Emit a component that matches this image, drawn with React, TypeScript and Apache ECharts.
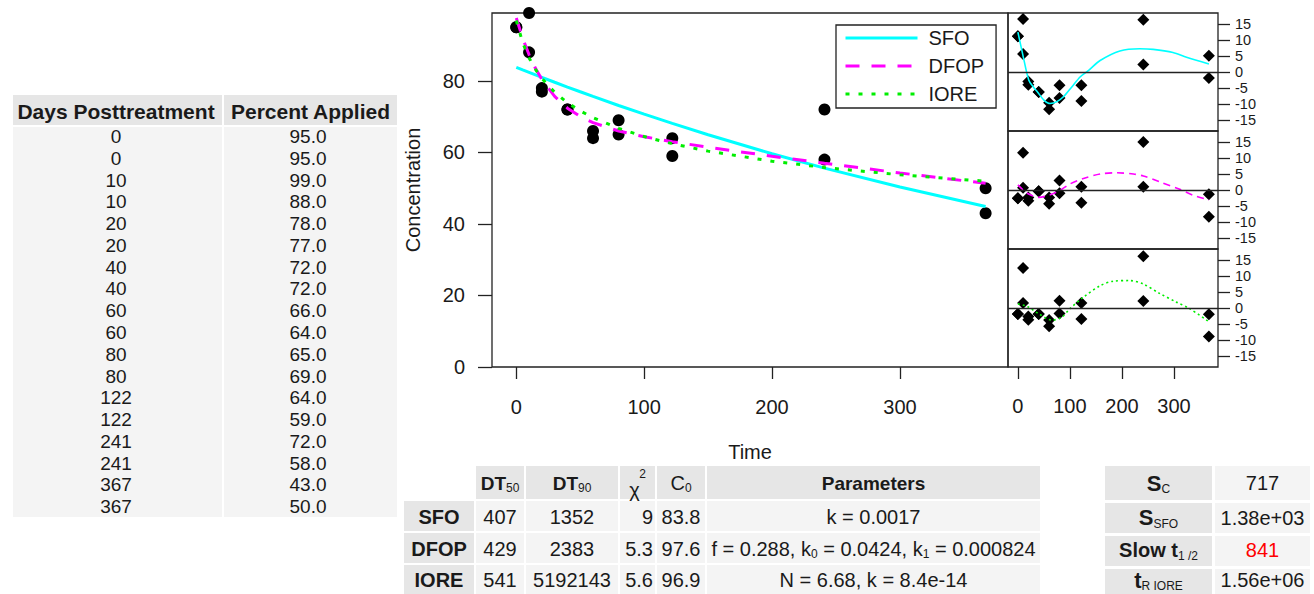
import React, { useEffect, useRef } from 'react';
import * as echarts from 'echarts';

// ---------- data ----------
const days = [0, 0, 10, 10, 20, 20, 40, 40, 60, 60, 80, 80, 122, 122, 241, 241, 367, 367];
const percentApplied = [95, 95, 99, 88, 78, 77, 72, 72, 66, 64, 65, 69, 64, 59, 72, 58, 43, 50];

const fitTimes = [0, 5, 10, 15, 20, 30, 40, 50, 60, 80, 100, 122, 150, 200, 241, 300, 367];
const sfoFit = [83.8, 83.09, 82.39, 81.69, 81.0, 79.63, 78.29, 76.97, 75.67, 73.14, 70.7, 68.12, 64.94, 59.65, 55.63, 50.32, 44.91];
const dfopFit = [97.6, 91.95, 87.32, 83.52, 80.39, 75.67, 72.39, 70.06, 68.35, 66.0, 64.4, 63.0, 61.46, 58.93, 56.98, 54.27, 51.36];
const ioreFit = [96.9, 90.69, 86.44, 83.24, 80.7, 76.82, 73.92, 71.62, 69.73, 66.75, 64.45, 62.43, 60.37, 57.56, 55.79, 53.76, 51.95];

const sfoResiduals = [11.2, 11.2, 16.61, 5.61, -3.0, -4.0, -6.29, -6.29, -9.67, -11.67, -8.14, -4.14, -4.12, -9.12, 16.37, 2.37, -1.91, 5.09];
const dfopResiduals = [-2.6, -2.6, 11.68, 0.68, -2.39, -3.39, -0.39, -0.39, -2.35, -4.35, -1.0, 3.0, 1.0, -4.0, 15.02, 1.02, -8.36, -1.36];
const ioreResiduals = [-1.9, -1.9, 12.56, 1.56, -2.7, -3.7, -1.92, -1.92, -3.73, -5.73, -1.75, 2.25, 1.57, -3.43, 16.21, 2.21, -8.95, -1.95];

const sfoSmoothTimes = [0, 10, 21, 30, 37, 50, 62, 75, 88, 104, 120, 136, 158, 196, 234, 260, 298, 324, 367];
const sfoSmooth = [12.5, 5, -2.6, -4.8, -6.1, -8.8, -9.9, -9.3, -7.7, -4.6, -1.5, 0.5, 3.6, 6.6, 7.3, 7.1, 6.1, 4.6, 2.5];
const dfopSmoothTimes = [0, 18, 40, 62, 82, 100, 126, 158, 190, 222, 241, 272, 311, 336, 367];
const dfopSmooth = [1.6, -1.0, -2.3, -1.5, 0, 1.9, 3.6, 5.0, 5.4, 5.0, 4.4, 2.6, 0.2, -1.6, -3.1];
const ioreSmoothTimes = [0, 18, 40, 66, 85, 100, 126, 158, 183, 215, 241, 272, 304, 330, 367];
const ioreSmooth = [1.3, 0.5, -1.8, -3.8, -2.8, -0.2, 3.4, 7.0, 8.4, 8.6, 7.5, 4.6, 1.9, -0.2, -4.3];

const timeTicks = [0, 100, 200, 300];
const concTicks = [0, 20, 40, 60, 80];
const residualTicks = [-15, -10, -5, 0, 5, 10, 15];

const tableHeaders = ['Days Posttreatment', 'Percent Applied'];
const modelNames = ['SFO', 'DFOP', 'IORE'];
const dt50 = ['407', '429', '541'];
const dt90 = ['1352', '2383', '5192143'];
const chi2 = ['9', '5.3', '5.6'];
const c0 = ['83.8', '97.6', '96.9'];
const parameters = [
  'k = 0.0017',
  'f = 0.288, k{s|0} = 0.0424, k{s|1} = 0.000824',
  'N = 6.68, k = 8.4e-14',
];
const statLabels = ['{b|S}{s|C}', '{b|S}{s|SFO}', '{c|Slow t}{s|1 /2}', '{b|t}{s|R IORE}'];
const statValues = ['717', '1.38e+03', '841', '1.56e+06'];

// ---------- helpers ----------
const FONT = '"Liberation Sans", Arial, Helvetica, sans-serif';
const INK = '#1a1a1a';
const HEAD = '#e6e6e6';
const BODY = '#f4f4f4';

function rect(x: number, y: number, w: number, h: number, fill: string) {
  return { type: 'rect', silent: true, shape: { x, y, width: w, height: h }, style: { fill } };
}

function txt(text: string, x: number, y: number, o: any = {}) {
  return {
    type: 'text',
    silent: true,
    x,
    y,
    style: {
      text,
      fill: o.fill || INK,
      fontSize: o.fontSize || 20,
      fontWeight: o.fontWeight || 'normal',
      fontFamily: FONT,
      align: o.align || 'center',
      verticalAlign: 'middle',
      rich: o.rich,
    },
  };
}

const subRich = {
  b: { fontSize: 19, fontWeight: 'bold', fontFamily: FONT, fill: INK, lineHeight: 22 },
  n: { fontSize: 20, fontFamily: FONT, fill: INK, lineHeight: 22 },
  c: { fontSize: 20, fontWeight: 'bold', fontFamily: FONT, fill: INK, lineHeight: 22 },
  s: { fontSize: 12, fontFamily: FONT, fill: INK, lineHeight: 12, verticalAlign: 'bottom' },
};

function buildGraphics() {
  const els: any[] = [];
  // left data table
  els.push(rect(13, 95, 209, 30, HEAD), rect(224, 95, 173, 30, HEAD));
  els.push(rect(13, 127, 209, 390, BODY), rect(224, 127, 173, 390, BODY));
  els.push(txt(tableHeaders[0], 116, 111, { fontSize: 21, fontWeight: 'bold' }));
  els.push(txt(tableHeaders[1], 310.5, 111, { fontSize: 21, fontWeight: 'bold' }));
  days.forEach((d, i) => {
    const y = 136.5 + i * 21.78;
    els.push(txt(String(d), 116, y, { fontSize: 19 }));
    els.push(txt(percentApplied[i].toFixed(1), 308, y, { fontSize: 19 }));
  });

  // model table
  const cols = [
    { x: 404, w: 70 }, { x: 476, w: 48 }, { x: 526, w: 92 },
    { x: 620, w: 35 }, { x: 657, w: 48 }, { x: 707, w: 333 },
  ];
  const rows = [{ y: 466, h: 33 }, { y: 501, h: 30 }, { y: 533, h: 30 }, { y: 565, h: 29 }];
  rows.forEach((r, ri) => {
    cols.forEach((c, ci) => {
      if (ri === 0 && ci === 0) return;
      els.push(rect(c.x, r.y, c.w, r.h, ri === 0 || ci === 0 ? HEAD : BODY));
    });
  });
  const cx = (i: number) => cols[i].x + cols[i].w / 2;
  const hy = 483;
  els.push(txt('{b|DT}{s|50}', cx(1), hy, { rich: subRich }));
  els.push(txt('{b|DT}{s|90}', cx(2), hy, { rich: subRich }));
  els.push(txt('χ', cx(3) - 3, hy + 7, { fontSize: 20 }));
  els.push(txt('2', cx(3) + 5, hy - 9, { fontSize: 12 }));
  els.push(txt('{n|C}{s|0}', cx(4), hy, { rich: subRich }));
  els.push(txt('Parameters', cx(5), hy, { fontSize: 19, fontWeight: 'bold' }));
  const rowY = [516.5, 548.5, 579.5];
  modelNames.forEach((m, i) => {
    const y = rowY[i];
    els.push(txt(m, cx(0), y, { fontSize: 20, fontWeight: 'bold' }));
    els.push(txt(dt50[i], cx(1), y));
    els.push(txt(dt90[i], cx(2), y));
    els.push(txt(chi2[i], cols[3].x + cols[3].w - 2, y, { align: 'right' }));
    els.push(txt(c0[i], cx(4), y));
    els.push(txt('{n|' + parameters[i].replace(/\{s\|(\d)\}/g, '}{s|$1}{n|') + '}', cx(5), y, { rich: subRich }));
  });

  // statistics table
  const sCols = [{ x: 1105, w: 107 }, { x: 1215, w: 95 }];
  const sRows = [{ y: 466, h: 34 }, { y: 503, h: 30 }, { y: 536, h: 30 }, { y: 569, h: 25 }];
  const sY = [483, 517.5, 549.5, 580];
  const statRich = {
    b: { fontSize: 22, fontWeight: 'bold', fontFamily: FONT, fill: INK, lineHeight: 24 },
    c: { fontSize: 20, fontWeight: 'bold', fontFamily: FONT, fill: INK, lineHeight: 24 },
    s: { fontSize: 12, fontFamily: FONT, fill: INK, lineHeight: 12, verticalAlign: 'bottom' },
  };
  sRows.forEach((r, i) => {
    els.push(rect(sCols[0].x, r.y, sCols[0].w, r.h, HEAD));
    els.push(rect(sCols[1].x, r.y, sCols[1].w, r.h, BODY));
    els.push(txt(statLabels[i], sCols[0].x + sCols[0].w / 2, sY[i], { rich: statRich }));
    els.push(txt(statValues[i], sCols[1].x + sCols[1].w / 2, sY[i], { fill: i === 2 ? '#ff0000' : INK }));
  });
  return els;
}

const zip = (xs: number[], ys: number[]) => xs.map((x, i) => [x, ys[i]]);

function buildOption(): any {
  const X_MIN = -19;
  const X_MAX = 384.5;
  const R = 18.5;
  const border = { show: true, borderColor: '#222', borderWidth: 1.3, backgroundColor: 'transparent' };
  const tickStyle = { color: '#222', width: 1.3 };
  const residualGrid = (top: number) => ({ left: 1008, top, width: 210, height: 118, ...border });
  const hiddenX = (gi: number) => ({ gridIndex: gi, type: 'value', min: X_MIN, max: X_MAX, show: false });
  const residualY = (gi: number) => ({
    gridIndex: gi,
    type: 'value',
    position: 'right',
    min: -R,
    max: R,
    axisLine: { show: false, onZero: false },
    axisTick: { show: true, length: 12, lineStyle: tickStyle, customValues: residualTicks },
    axisLabel: { customValues: residualTicks, margin: 17, fontSize: 14.5, color: INK, fontFamily: FONT },
    splitLine: { show: false },
  });
  const residualScatter = (gi: number, vals: number[]) => ({
    type: 'scatter',
    xAxisIndex: gi,
    yAxisIndex: gi,
    data: zip(days, vals),
    symbol: 'diamond',
    symbolSize: 12,
    itemStyle: { color: '#000', opacity: 1 },
    clip: false,
    silent: true,
    markLine: {
      silent: true,
      symbol: ['none', 'none'],
      label: { show: false },
      lineStyle: { color: '#222', width: 1.3, type: 'solid' },
      data: [{ yAxis: 0 }],
    },
  });
  const smooth = (gi: number, ts: number[], vs: number[], color: string, type: any) => ({
    type: 'line',
    xAxisIndex: gi,
    yAxisIndex: gi,
    data: zip(ts, vs),
    symbol: 'none',
    showSymbol: false,
    smooth: 0.3,
    silent: true,
    lineStyle: { color, width: 1.6, type },
    itemStyle: { color },
  });

  return {
    animation: false,
    backgroundColor: '#ffffff',
    textStyle: { fontFamily: FONT },
    grid: [
      { left: 492, top: 13, width: 516, height: 354, ...border },
      residualGrid(13),
      residualGrid(131),
      residualGrid(249),
    ],
    legend: {
      data: ['SFO', 'DFOP', 'IORE'],
      orient: 'vertical',
      left: 836,
      top: 25,
      itemWidth: 72,
      itemHeight: 14,
      itemGap: 8,
      padding: [3, 12, 4, 8],
      borderColor: '#222',
      borderWidth: 1.3,
      borderRadius: 0,
      backgroundColor: '#ffffff',
      selectedMode: false,
      lineStyle: { width: 3 },
      itemStyle: { opacity: 0 },
      textStyle: { fontSize: 20, color: INK, fontFamily: FONT, padding: [0, 0, 0, 6] },
    },
    xAxis: [
      {
        gridIndex: 0,
        type: 'value',
        min: X_MIN,
        max: X_MAX,
        axisLine: { show: false, onZero: false },
        axisTick: { show: true, length: 12, lineStyle: tickStyle, customValues: timeTicks },
        axisLabel: { customValues: timeTicks, margin: 30, fontSize: 20, color: INK, fontFamily: FONT },
        splitLine: { show: false },
        name: 'Time',
        nameLocation: 'middle',
        nameGap: 75,
        nameTextStyle: { fontSize: 20, color: INK, fontFamily: FONT },
      },
      hiddenX(1),
      hiddenX(2),
      {
        gridIndex: 3,
        type: 'value',
        min: X_MIN,
        max: X_MAX,
        axisLine: { show: false, onZero: false },
        axisTick: { show: true, length: 12, lineStyle: tickStyle, customValues: timeTicks },
        axisLabel: { customValues: timeTicks, margin: 29, fontSize: 20, color: INK, fontFamily: FONT },
        splitLine: { show: false },
      },
    ],
    yAxis: [
      {
        gridIndex: 0,
        type: 'value',
        min: 0,
        max: 99,
        axisLine: { show: false, onZero: false },
        axisTick: { show: true, length: 14, lineStyle: tickStyle, customValues: concTicks },
        axisLabel: { customValues: concTicks, margin: 27, fontSize: 20, color: INK, fontFamily: FONT },
        splitLine: { show: false },
        name: 'Concentration',
        nameLocation: 'middle',
        nameGap: 69,
        nameTextStyle: { fontSize: 20, color: INK, fontFamily: FONT },
      },
      residualY(1),
      residualY(2),
      residualY(3),
    ],
    series: [
      {
        type: 'scatter',
        xAxisIndex: 0,
        yAxisIndex: 0,
        data: zip(days, percentApplied),
        symbol: 'circle',
        symbolSize: 12,
        itemStyle: { color: '#000', opacity: 1 },
        clip: false,
        silent: true,
      },
      {
        name: 'SFO',
        type: 'line',
        xAxisIndex: 0,
        yAxisIndex: 0,
        data: zip(fitTimes, sfoFit),
        symbol: 'none',
        showSymbol: false,
        silent: true,
        lineStyle: { color: '#00ffff', width: 3 },
        itemStyle: { color: '#00ffff' },
      },
      {
        name: 'DFOP',
        type: 'line',
        xAxisIndex: 0,
        yAxisIndex: 0,
        data: zip(fitTimes, dfopFit),
        symbol: 'none',
        showSymbol: false,
        silent: true,
        lineStyle: { color: '#ff00ff', width: 3, type: [14, 12] },
        itemStyle: { color: '#ff00ff' },
      },
      {
        name: 'IORE',
        type: 'line',
        xAxisIndex: 0,
        yAxisIndex: 0,
        data: zip(fitTimes, ioreFit),
        symbol: 'none',
        showSymbol: false,
        silent: true,
        lineStyle: { color: '#00ee00', width: 3, type: [4, 9] },
        itemStyle: { color: '#00ee00' },
      },
      residualScatter(1, sfoResiduals),
      residualScatter(2, dfopResiduals),
      residualScatter(3, ioreResiduals),
      smooth(1, sfoSmoothTimes, sfoSmooth, '#00ffff', 'solid'),
      smooth(2, dfopSmoothTimes, dfopSmooth, '#ff00ff', [7, 5]),
      smooth(3, ioreSmoothTimes, ioreSmooth, '#00ee00', [2, 3]),
    ],
    graphic: { elements: buildGraphics() },
  };
}

export default function App() {
  const ref = useRef<HTMLDivElement>(null);
  useEffect(() => {
    if (!ref.current) return;
    const chart = echarts.init(ref.current, undefined, { renderer: 'svg' });
    chart.setOption(buildOption());
    return () => chart.dispose();
  }, []);
  return (
    <div
      ref={ref}
      style={{ position: 'absolute', left: 0, top: 0, width: 1314, height: 594, background: '#fff' }}
    />
  );
}
